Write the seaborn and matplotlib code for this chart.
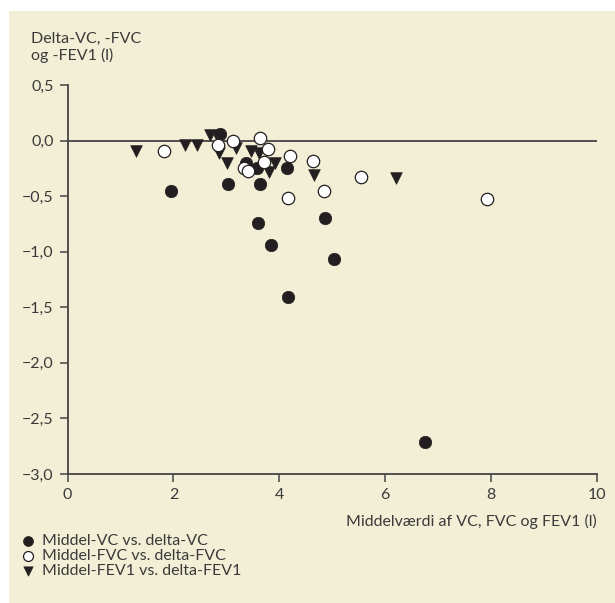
import numpy as np
import pandas as pd
import matplotlib
matplotlib.use("Agg")
import matplotlib.pyplot as plt
import seaborn as sns
from matplotlib.patches import Rectangle
from matplotlib.ticker import FuncFormatter

# data
vc_x = [1.95, 2.88, 3.03, 3.63, 3.38, 3.57, 4.15, 3.59, 3.85, 4.87, 5.03, 4.16, 6.76]
vc_y = [-0.45, 0.06, -0.39, -0.39, -0.20, -0.25, -0.25, -0.74, -0.94, -0.70, -1.07, -1.41, -2.71]
fvc_x = [1.83, 2.85, 3.12, 3.64, 3.79, 3.72, 3.33, 3.40, 4.20, 4.63, 4.85, 4.17, 5.54, 7.92]
fvc_y = [-0.09, -0.04, 0.00, 0.02, -0.08, -0.19, -0.25, -0.27, -0.14, -0.18, -0.45, -0.52, -0.33, -0.53]
fev1_x = [1.29, 2.21, 2.45, 2.70, 2.87, 3.19, 3.02, 3.47, 3.61, 3.92, 3.80, 4.66, 6.20]
fev1_y = [-0.09, -0.04, -0.04, 0.05, -0.11, -0.07, -0.20, -0.09, -0.11, -0.20, -0.28, -0.31, -0.34]

labels = ["Middel-VC vs. delta-VC", "Middel-FVC vs. delta-FVC", "Middel-FEV1 vs. delta-FEV1"]
xticks = [0, 2, 4, 6, 8, 10]
yticks = [0.5, 0.0, -0.5, -1.0, -1.5, -2.0, -2.5, -3.0]

sns.set_style("ticks")
plt.rcParams["font.family"] = ["Lato", "DejaVu Sans"]

bg = "#f3efd6"
ink = "#231f20"
txt = "#3a3a3a"
fs = 11.5

W, H = 615, 603
fig = plt.figure(figsize=(W / 100, H / 100), dpi=100, facecolor="white")
fig.patches.append(Rectangle((9 / W, 0), 1 - 9 / W, 1 - 11 / H, transform=fig.transFigure,
                             facecolor=bg, edgecolor="none", zorder=-10))

ax = fig.add_axes([67.5 / W, (H - 474) / H, (597 - 67.5) / W, (474 - 85) / H])
ax.set_facecolor("none")

ax.axhline(0, color="#444444", lw=1.3, zorder=1)

sns.scatterplot(x=fev1_x, y=fev1_y, ax=ax, marker="v", s=70, color=ink,
                edgecolor=ink, linewidth=0.5, zorder=3, label=labels[2])
sns.scatterplot(x=vc_x, y=vc_y, ax=ax, marker="o", s=80, color=ink,
                edgecolor=ink, linewidth=0.5, zorder=4, label=labels[0])
sns.scatterplot(x=fvc_x, y=fvc_y, ax=ax, marker="o", s=80, color="white",
                edgecolor=ink, linewidth=0.9, zorder=5, label=labels[1])

ax.set_xlim(0, 10)
ax.set_ylim(-3.0, 0.5)
ax.set_xticks(xticks)
ax.set_yticks(yticks)
ax.xaxis.set_major_formatter(FuncFormatter(lambda v, p: f"{v:.0f}"))
ax.yaxis.set_major_formatter(FuncFormatter(
    lambda v, p: f"{v:.1f}".replace(".", ",").replace("-0,0", "0,0").replace("-", "\u2212")))
for s in ["top", "right"]:
    ax.spines[s].set_visible(False)
for s in ["left", "bottom"]:
    ax.spines[s].set_color("#444444")
    ax.spines[s].set_linewidth(1.3)
ax.tick_params(direction="out", length=6, width=1.1, color="#444444",
               labelsize=fs, labelcolor=txt, pad=4)
ax.set_xlabel("")
ax.set_ylabel("")

fig.text(31 / W, 1 - 32 / H, "Delta-VC, -FVC\nog -FEV1 (l)", ha="left", va="top",
         fontsize=fs, color=txt, linespacing=1.2)
fig.text(597 / W, 1 - 521 / H, "Middelværdi af VC, FVC og FEV1 (l)", ha="right",
         va="center", fontsize=fs, color=txt)

handles, labs = ax.get_legend_handles_labels()
order = [labs.index(l) for l in labels]
leg = ax.legend([handles[i] for i in order], [labs[i] for i in order],
                loc="upper left", bbox_to_anchor=(19 / W, 1 - 534 / H),
                bbox_transform=fig.transFigure, frameon=False, fontsize=fs,
                handletextpad=0.35, labelspacing=0.05, handlelength=1.1,
                markerscale=0.8, borderaxespad=0, borderpad=0)
for t in leg.get_texts():
    t.set_color(txt)

fig.savefig("out.png", dpi=100, facecolor="white")
